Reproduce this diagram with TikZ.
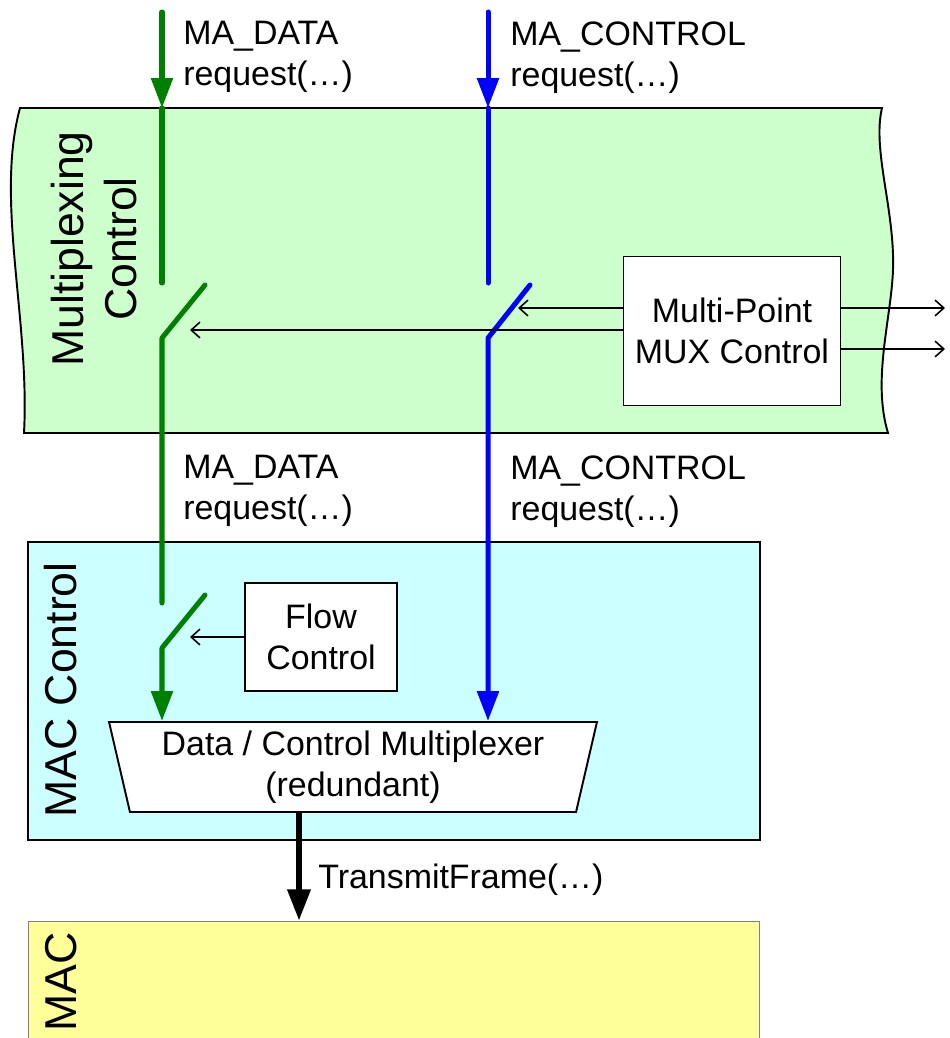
\documentclass[tikz,border=0pt]{standalone}
\usepackage{fontspec}
\setmainfont{Liberation Sans}
\usepackage{xcolor}
\usetikzlibrary{shapes.geometric, arrows.meta, positioning, calc}
\definecolor{mpxgreen}{HTML}{CCFFCC}
\definecolor{maccyan}{HTML}{CCFFFF}
\definecolor{macyellow}{HTML}{FFFF99}
\definecolor{datagreen}{HTML}{008000}
\definecolor{ctrlblue}{HTML}{0000FF}
\newcommand{\reqfont}{\fontsize{19.3}{23.5}\selectfont}
\newcommand{\layerfont}{\fontsize{25.4}{30}\selectfont}
\tikzset{
  layer/.style     = {rectangle, draw, line width=1.1pt, inner sep=0pt},
  layername/.style = {rotate=90, align=center, inner sep=0pt, font=\layerfont},
  unit/.style      = {rectangle, draw, fill=white, line width=1.1pt, align=center,
                      inner sep=0pt, font=\reqfont},
  req/.style       = {anchor=north west, align=left, inner sep=0pt, font=\reqfont},
  dataline/.style  = {datagreen, line width=2.85pt, line cap=round, line join=round},
  ctrlline/.style  = {ctrlblue, line width=2.85pt, line cap=round, line join=round},
  datarrow/.style  = {dataline, -{Triangle[length=17pt,width=12pt]}},
  ctrlarrow/.style = {ctrlline, -{Triangle[length=17pt,width=12pt]}},
  sig/.style       = {line width=0.9pt, -{Straight Barb[length=5pt,width=9pt]}},
  bigsig/.style    = {line width=3.8pt, -{Triangle[length=18pt,width=12.5pt]}},
}

\begin{document}
\begin{tikzpicture}[x=0.02cm, y=-0.02cm]
  \useasboundingbox (0,0) rectangle (950,1038);

  % layers
  \draw[fill=mpxgreen, line width=1.1pt] (20,108) -- (882,108)
    .. controls (872,150) and (895,210) .. (893,270)
    .. controls (891,320) and (872,380) .. (888,433)
    -- (24,433) .. controls (30,320) and (-5,200) .. cycle;
  \node[layername] (mpxname) at (94,249) {Multiplexing\\Control};

  \node[layer, fill=maccyan, minimum width=14.64cm, minimum height=5.96cm] (macc) at (394,691) {};
  \node[layername] (maccname) at (61,690) {MAC Control};

  \node[layer, fill=macyellow, draw=gray, line width=0.6pt,
        minimum width=14.64cm, minimum height=3cm] (mac) at (394,996) {};
  \node[layername, anchor=east] (macname) at (61,932) {MAC};

  % function blocks
  \node[unit, minimum width=4.34cm, minimum height=2.98cm] (mpx) at (732,331)
    {Multi-Point\\MUX Control};
  \node[unit, minimum width=3.04cm, minimum height=2.16cm] (fc) at (321,637)
    {Flow\\Control};
  \node[unit, trapezium, shape border rotate=180, trapezium angle=74,
        trapezium stretches body, minimum width=9.76cm, minimum height=1.8cm] (mux) at (353,767)
    {Data / Control Multiplexer\\(redundant)};

  % switch points
  \coordinate (dtop) at (162,12);
  \coordinate (din)  at (162,108);
  \coordinate (d1a)  at (162,283);
  \coordinate (d1b)  at (162,338);
  \coordinate (d1c)  at (205,285);
  \coordinate (d2a)  at (162,603);
  \coordinate (d2b)  at (162,648);
  \coordinate (d2c)  at (205,595);
  \coordinate (ctop) at (488,12);
  \coordinate (cin)  at (488,108);
  \coordinate (c1a)  at (488,283);
  \coordinate (c1b)  at (488,338);
  \coordinate (c1c)  at (530,285);

  % data path
  \draw[datarrow] (dtop) -- (din);
  \draw[dataline] (din) -- (d1a);
  \draw[dataline] (d1c) -- (d1b) -- (d2a);
  \draw[datarrow] (d2c) -- (d2b) -- (d2b |- mux.north);

  % control path
  \draw[ctrlarrow] (ctop) -- (cin);
  \draw[ctrlline] (cin) -- (c1a);
  \draw[ctrlarrow] (c1c) -- (c1b) -- (c1b |- mux.north);

  % switch control
  \coordinate (cblade) at (518,308);
  \coordinate (dblade) at (190,330);
  \coordinate (fblade) at (190,637);
  \coordinate (out1)   at (945,308);
  \coordinate (out2)   at (945,349);
  \draw[sig] (mpx.west |- cblade) -- (cblade);
  \draw[sig] (mpx.west |- dblade) -- (dblade);
  \draw[sig] (fc.west) -- (fblade);
  \draw[sig] (mpx.east |- out1) -- (out1);
  \draw[sig] (mpx.east |- out2) -- (out2);

  % to the MAC
  \coordinate (tf) at (299,921);
  \draw[bigsig] (mux.south -| tf) -- (tf);
  \node[anchor=west, inner sep=0pt, font=\reqfont] (tflbl) at (318,880) {TransmitFrame(…)};

  % primitive labels
  \node[req] (dreqa) at (183,21)  {MA\_DATA\\request(…)};
  \node[req] (creqa) at (510,21)  {MA\_CONTROL\\request(…)};
  \node[req] (dreqb) at (183,455) {MA\_DATA\\request(…)};
  \node[req] (creqb) at (510,455) {MA\_CONTROL\\request(…)};

\end{tikzpicture}
\end{document}
